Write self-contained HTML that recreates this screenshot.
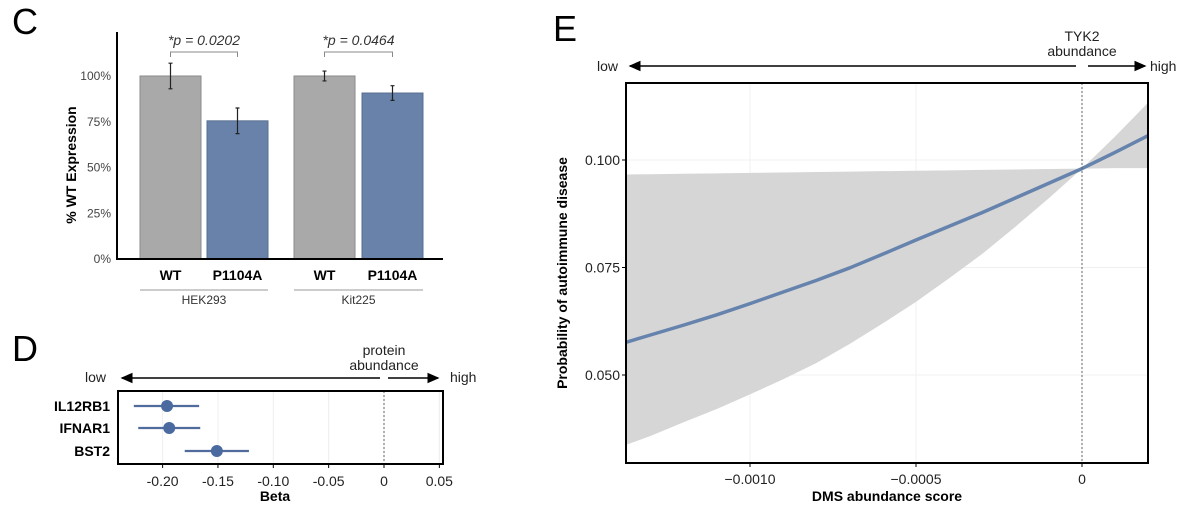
<!DOCTYPE html>
<html><head><meta charset="utf-8"><style>
body{margin:0;background:#fff;}
svg{display:block;font-family:"Liberation Sans",Arial,sans-serif;}
</style></head><body>
<svg id="fig" width="1200" height="505" viewBox="0 0 1200 505">
<defs><marker id="ah" markerWidth="8" markerHeight="8" refX="7" refY="4" orient="auto"><path d="M0,0.5 L8,4 L0,7.5 Z" fill="#000"/></marker>
<clipPath id="eclip"><rect x="626" y="83" width="522" height="380"/></clipPath></defs>
<text x="12" y="34" font-size="36">C</text>
<text x="12" y="361" font-size="36">D</text>
<text x="553" y="41" font-size="36">E</text>
<g id="pc"></g>
<g id="pd"></g>
<g id="pe"></g>
</svg>
<script>
// Panel C data
const cCats=["WT","P1104A","WT","P1104A"];
const cGroups=["HEK293","Kit225"];
const cVals=[100,75.5,100,90.7];
const cErr=[7,7,2.7,4];
const cPvals=["*p = 0.0202","*p = 0.0464"];
const cTicks=[0,25,50,75,100];
// Panel D data
const dGenes=["IL12RB1","IFNAR1","BST2"];
const dBeta=[-0.196,-0.194,-0.151];
const dLo=[-0.226,-0.222,-0.180];
const dHi=[-0.167,-0.166,-0.122];
const dTicks=[-0.2,-0.15,-0.1,-0.05,0,0.05];
const dTickLabels=["-0.20","-0.15","-0.10","-0.05","0","0.05"];
// Panel E data
const eX=[-0.0014,-0.0013,-0.0012,-0.0011,-0.0010,-0.0009,-0.0008,-0.0007,-0.0006,-0.0005,-0.0004,-0.0003,-0.0002,-0.0001,0,0.0001,0.0002];
const eFit=[0.0570,0.0593,0.0616,0.0640,0.0666,0.0693,0.0720,0.0749,0.0781,0.0814,0.0846,0.0878,0.0912,0.0946,0.0980,0.1018,0.1057];
const eUp=[0.0966,0.0967,0.0968,0.0969,0.0970,0.0971,0.0972,0.0973,0.0974,0.0975,0.0976,0.0977,0.0978,0.0979,0.0980,0.1055,0.1134];
const eLow=[0.0330,0.0358,0.0390,0.0421,0.0455,0.0490,0.0528,0.0572,0.0620,0.0670,0.0725,0.0782,0.0845,0.0911,0.0980,0.0981,0.0981];
const eTicksX=[-0.001,-0.0005,0];
const eTickXLabels=["\u22120.0010","\u22120.0005","0"];
const eTicksY=[0.05,0.075,0.1];
const eTickYLabels=["0.050","0.075","0.100"];

const NS="http://www.w3.org/2000/svg";
function mk(parent,tag,attrs,text){const e=document.createElementNS(NS,tag);for(const k in attrs)e.setAttribute(k,attrs[k]);if(text!=null)e.textContent=text;parent.appendChild(e);return e;}

// ---- Panel C
(function(){
const g=document.getElementById('pc');
const y=v=>259-v*1.83;
const barX=[140,207,294,362], bw=61;
cTicks.forEach(t=>{
 const e=mk(g,'text',{x:111,y:y(t)+4,'font-size':12,'text-anchor':'end',fill:'#444'},t+'%');
 
 
});
const yl=mk(g,'text',{transform:'translate(76,165) rotate(-90)','font-size':14,'font-weight':'bold','text-anchor':'middle'},'% WT Expression');


cVals.forEach((v,i)=>{
 const r=mk(g,'rect',{x:barX[i],y:y(v),width:bw,height:259-y(v),fill:i%2?'#6882aa':'#a9a9a9',stroke:i%2?'#5a6f90':'#8a8a8a','stroke-width':1});
 
 
 const cx=barX[i]+bw/2;
 const eb=mk(g,'path',{d:`M${cx},${y(v+cErr[i])}V${y(v-cErr[i])}M${cx-2},${y(v+cErr[i])}h4M${cx-2},${y(v-cErr[i])}h4`,stroke:'#222','stroke-width':1.2,fill:'none'});
 
 
 const lb=mk(g,'text',{x:cx,y:280,'font-size':14,'font-weight':'bold','text-anchor':'middle'},cCats[i]);
 
 
});
cGroups.forEach((gr,k)=>{
 const x1=barX[2*k]+bw/2,x2=barX[2*k+1]+bw/2;
 const br=mk(g,'path',{d:`M${x1},57V52H${x2}V57`,stroke:'#888',fill:'none','stroke-width':1});
 
 
 const pt=mk(g,'text',{x:(x1+x2)/2,y:45,'font-size':14,'font-style':'italic','text-anchor':'middle',fill:'#333'},cPvals[k]);
 
 
 const gl=mk(g,'line',{x1:barX[2*k],x2:barX[2*k+1]+bw,y1:290,y2:290,stroke:'#999'});
 
 
 const gt=mk(g,'text',{x:(barX[2*k]+barX[2*k+1]+bw)/2,y:304,'font-size':12,'text-anchor':'middle',fill:'#333'},gr);
 
 
});
const ax=mk(g,'path',{d:'M117,32V259H443',stroke:'#000','stroke-width':2,fill:'none'});


})();

// ---- Panel D
(function(){
const g=document.getElementById('pd');
const x=v=>384+v*1107;
const rowY=[406,428,451];
const top=391,bot=464,L=118,R=443;
dTicks.forEach((t,i)=>{
 const gl=mk(g,'line',{x1:x(t),x2:x(t),y1:top,y2:bot,stroke:'#eee'});
 
 
 const tk=mk(g,'line',{x1:x(t),x2:x(t),y1:bot,y2:bot+4,stroke:'#000'});
 
 
 const tl=mk(g,'text',{x:x(t),y:486,'font-size':14,'text-anchor':'middle',fill:'#222'},dTickLabels[i]);
 
 
});
const zl=mk(g,'line',{x1:x(0),x2:x(0),y1:top,y2:bot,stroke:'#666','stroke-dasharray':'2,2'});


dGenes.forEach((gn,i)=>{
 const ci=mk(g,'line',{x1:x(dLo[i]),x2:x(dHi[i]),y1:rowY[i],y2:rowY[i],stroke:'#4f6c9c','stroke-width':2.2});
 
 
 const pt=mk(g,'circle',{cx:x(dBeta[i]),cy:rowY[i],r:6,fill:'#4a6aa0'});
 
 
 const lb=mk(g,'text',{x:110,y:rowY[i]+5,'font-size':14,'font-weight':'bold','text-anchor':'end'},gn);
 
 
});
const bx=mk(g,'rect',{x:L,y:top,width:R-L,height:bot-top,fill:'none',stroke:'#000','stroke-width':2});


const xt=mk(g,'text',{x:275,y:501,'font-size':14,'font-weight':'bold','text-anchor':'middle'},'Beta');


const a1=mk(g,'line',{x1:380,x2:122,y1:378,y2:378,stroke:'#000','stroke-width':1.5,'marker-end':'url(#ah)'});


const a2=mk(g,'line',{x1:388,x2:438,y1:378,y2:378,stroke:'#000','stroke-width':1.5,'marker-end':'url(#ah)'});


[['low',85,382,'start'],['high',450,382,'start'],['protein',384,355,'middle'],['abundance',384,370,'middle']].forEach(a=>{
 const t=mk(g,'text',{x:a[1],y:a[2],'font-size':14,'text-anchor':a[3],fill:'#222'},a[0]);
 
 
});
})();

// ---- Panel E
(function(){
const g=document.getElementById('pe');
const L=626,R=1148,T=83,B=463;
const x=v=>1082+v*332000;
const y=v=>160-(v-0.1)*4300;
[-0.001,-0.0005,0].forEach((t,i)=>{
 const gl=mk(g,'line',{x1:x(t),x2:x(t),y1:T,y2:B,stroke:'#f0f0f0'});
 
 
});
eTicksY.forEach((t,i)=>{
 const gl=mk(g,'line',{x1:L,x2:R,y1:y(t),y2:y(t),stroke:'#f0f0f0'});
 
 
});
const cg=mk(g,'g',{'clip-path':'url(#eclip)'});


let d='M'+eX.map((v,i)=>x(v)+','+y(eUp[i])).join('L');
for(let i=eX.length-1;i>=0;i--)d+='L'+x(eX[i])+','+y(eLow[i]);
const rb=mk(cg,'path',{d:d+'Z',fill:'#d6d6d6'});


const ln=mk(cg,'path',{d:'M'+eX.map((v,i)=>x(v)+','+y(eFit[i])).join('L'),fill:'none',stroke:'#6583ad','stroke-width':3.5,'stroke-linejoin':'round'});


const zl=mk(g,'line',{x1:x(0),x2:x(0),y1:T,y2:B,stroke:'#666','stroke-dasharray':'2,2'});


const bx=mk(g,'rect',{x:L,y:T,width:R-L,height:B-T,fill:'none',stroke:'#000','stroke-width':2});


eTicksX.forEach((t,i)=>{
 const tk=mk(g,'line',{x1:x(t),x2:x(t),y1:B,y2:B+4,stroke:'#000'});
 
 
 const tl=mk(g,'text',{x:x(t),y:484,'font-size':14,'text-anchor':'middle',fill:'#222'},eTickXLabels[i]);
 
 
});
eTicksY.forEach((t,i)=>{
 const tk=mk(g,'line',{x1:L-4,x2:L,y1:y(t),y2:y(t),stroke:'#000'});
 
 
 const tl=mk(g,'text',{x:L-6,y:y(t)+5,'font-size':14,'text-anchor':'end',fill:'#222'},eTickYLabels[i]);
 
 
});
const xt=mk(g,'text',{x:887,y:501,'font-size':14,'font-weight':'bold','text-anchor':'middle'},'DMS abundance score');


const yt=mk(g,'text',{transform:'translate(567,273) rotate(-90)','font-size':14,'font-weight':'bold','text-anchor':'middle'},'Probability of autoimmune disease');


const a1=mk(g,'line',{x1:1076,x2:630,y1:66,y2:66,stroke:'#000','stroke-width':1.5,'marker-end':'url(#ah)'});


const a2=mk(g,'line',{x1:1088,x2:1145,y1:66,y2:66,stroke:'#000','stroke-width':1.5,'marker-end':'url(#ah)'});


[['low',597,71,'start'],['high',1150,71,'start'],['TYK2',1082,41,'middle'],['abundance',1082,56,'middle']].forEach(a=>{
 const t=mk(g,'text',{x:a[1],y:a[2],'font-size':14,'text-anchor':a[3],fill:'#222'},a[0]);
 
 
});
})();
</script>
</body></html>
